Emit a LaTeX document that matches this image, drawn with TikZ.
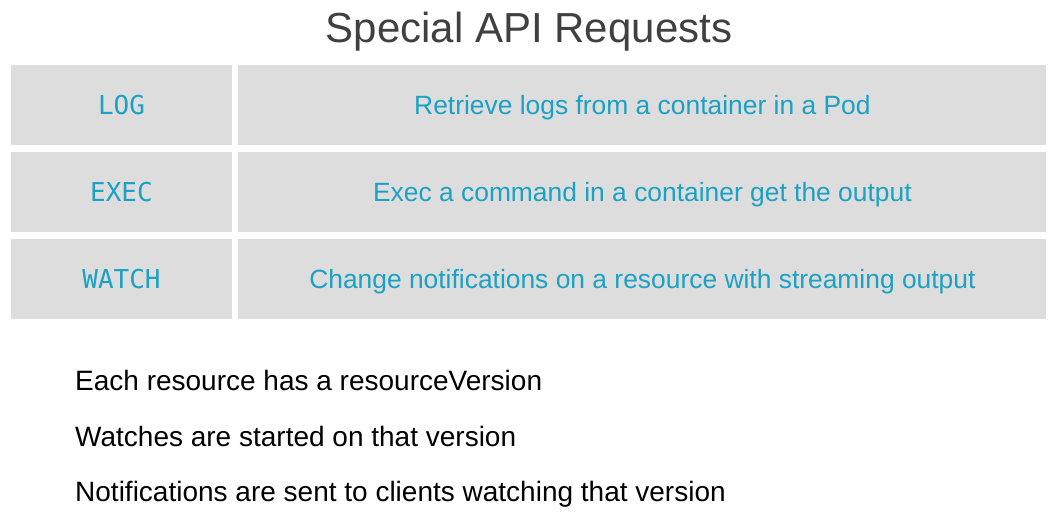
\documentclass[tikz,border=0pt]{standalone}
\usepackage{fontspec}
\setmainfont{Liberation Sans}
\setmonofont{DejaVu Sans Mono}
\usepackage{tikz}
\usetikzlibrary{positioning}

\definecolor{cellgray}{HTML}{DDDDDD}
\definecolor{apicyan}{HTML}{1AA1C4}
\definecolor{titlegray}{HTML}{404040}

\begin{document}
\begin{tikzpicture}[
  x=1pt, y=-1pt,
  cell/.style = {fill=cellgray, inner sep=0pt, minimum height=80.5pt, text depth=0pt, text=apicyan},
  keycell/.style = {cell, minimum width=221pt, font=\ttfamily\fontsize{26}{30}\selectfont},
  desccell/.style = {cell, minimum width=808pt, font=\fontsize{26.4}{30}\selectfont},
  note/.style = {anchor=base west, inner sep=0pt, font=\fontsize{28}{32}\selectfont},
  node distance=6pt and 6pt
]
\useasboundingbox (0,0) rectangle (1060,518);

% Title
\node[anchor=base, inner sep=0pt, text=titlegray, font=\fontsize{42}{48}\selectfont]
  (title) at (529,42.5) {Special API Requests};

% Request rows
\node[keycell] (log) at (121.5,105.25) {LOG};
\node[keycell, below=of log] (exec) {EXEC};
\node[keycell, below=of exec] (watch) {WATCH};

\node[desccell, right=of log] (logdesc) {Retrieve logs from a container in a Pod};
\node[desccell, right=of exec] (execdesc) {Exec a command in a container get the output};
\node[desccell, right=of watch] (watchdesc) {Change notifications on a resource with streaming output};

% Notes below the table
\node[note] (version) at (75,391) {Each resource has a resourceVersion};
\node[note] (started) at (75,446) {Watches are started on that version};
\node[note] (notify) at (75,501) {Notifications are sent to clients watching that version};

\end{tikzpicture}
\end{document}
